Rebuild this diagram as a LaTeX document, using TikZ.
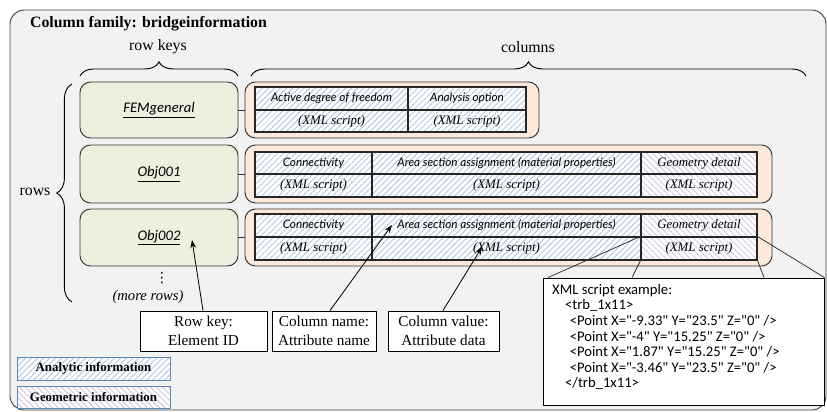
\documentclass[tikz,border=0pt]{standalone}
\usepackage{fontspec}
\setmainfont{Liberation Serif}
\newfontfamily\latofont{Lato}
\newfontfamily\calfont{Carlito}
\newfontfamily\dejafont{DejaVu Sans}
\usetikzlibrary{fit,decorations.pathreplacing,patterns.meta,shadows,arrows.meta}
\definecolor{bgGray}{HTML}{F2F2F2}
\definecolor{keyGreen}{HTML}{EBF1DE}
\definecolor{rowPeach}{HTML}{FDE9D9}
\definecolor{hatchBlue}{HTML}{B9CDE5}
\definecolor{hatchLilac}{HTML}{D5CDE3}
\definecolor{legendBlue}{HTML}{5B87B8}

\begin{document}
\begin{tikzpicture}[x=0.03cm,y=-0.03cm,
  keybox/.style={draw=black!80, line width=0.8pt, fill=keyGreen, rounded corners=9pt, inner sep=0pt},
  keytxt/.style={font=\calfont\itshape\fontsize{12.5}{14}\selectfont},
  rowbox/.style={draw=black!80, line width=0.8pt, fill=rowPeach, rounded corners=9pt, inner sep=0pt},
  acell/.style={draw=black!85, line width=0.9pt, inner sep=0pt, preaction={fill=white},
    pattern={Lines[angle=45,distance=4pt,line width=1.1pt]}, pattern color=hatchBlue},
  gcell/.style={draw=black!85, line width=0.9pt, inner sep=0pt, preaction={fill=white},
    pattern={Lines[angle=-45,distance=4pt,line width=1.1pt]}, pattern color=hatchLilac},
  nametxt/.style={font=\latofont\itshape\fontsize{10}{11}\selectfont},
  valtxt/.style={font=\itshape\fontsize{11}{12}\selectfont},
  notebox/.style={drop shadow={shadow xshift=1.2pt, shadow yshift=-1.2pt, fill=black!45},
    draw=black, line width=0.8pt, fill=white, inner sep=0pt},
  notetxt/.style={align=center, font=\fontsize{13}{16}\selectfont},
  legendbox/.style={drop shadow={shadow xshift=1pt, shadow yshift=-1pt, fill=black!30},
    draw=legendBlue, line width=0.8pt, inner sep=0pt, preaction={fill=white}},
  legendtxt/.style={font=\bfseries\fontsize{11}{12}\selectfont},
  bracelabel/.style={font=\fontsize{13.5}{15}\selectfont},
  callout/.style={draw=black!85, line width=0.6pt},
  pointer/.style={draw=black, line width=0.7pt, -{Stealth[length=7pt,width=5pt]}}
]
\useasboundingbox (0,0) rectangle (827,411);

% column family frame
\draw[fill=bgGray, draw=black!75, line width=0.8pt, rounded corners=12pt] (10,10) rectangle (826,410);
\node[anchor=west, font=\bfseries\fontsize{13.5}{15}\selectfont] (title) at (26,24) {Column family: bridgeinformation};

% braces
\draw[decorate, decoration={brace, amplitude=12pt}, line width=0.8pt] (80,76) -- (238,76);
\draw[decorate, decoration={brace, amplitude=12pt}, line width=0.8pt] (251,76) -- (806,76);
\draw[decorate, decoration={brace, amplitude=13pt}, line width=0.8pt] (72,302) -- (72,84);
\node[bracelabel] (rowkeys) at (158,47) {row keys};
\node[bracelabel] (columns) at (528,47) {columns};
\node[bracelabel] (rows) at (35,192) {rows};

% row keys
\node[keybox, fit={(80,82) (238,138)}, label={[keytxt]center:\underline{FEMgeneral}}] (k1) {};
\node[keybox, fit={(80,145) (238,203)}, label={[keytxt]center:\underline{Obj001}}] (k2) {};
\node[keybox, fit={(80,209) (238,266)}, label={[keytxt]center:\underline{Obj002}}] (k3) {};
\node[inner sep=0pt, font=\dejafont\fontsize{12}{12}\selectfont] (vdots) at (162,278) {⋮};
\node[inner sep=0pt, font=\itshape\fontsize{12.5}{14}\selectfont] (morerows) at (148,297) {(more rows)};

% column containers
\node[rowbox, fit={(245,82) (539,138)}] (r1) {};
\node[rowbox, fit={(245,145) (772,203)}] (r2) {};
\node[rowbox, fit={(245,209) (772,266)}] (r3) {};
\draw[black!80, line width=0.8pt] (k1.east) -- (r1.west);
\draw[black!80, line width=0.8pt] (k2.east) -- (r2.west);
\draw[black!80, line width=0.8pt] (k3.east) -- (r3.west);

% first row
\node[acell, fit={(255,87) (408,110)}, label={[nametxt]center:Active degree of freedom}] (c11) {};
\node[acell, fit={(255,110) (408,132)}, label={[valtxt]center:(XML script)}] (v11) {};
\node[acell, fit={(408,87) (526,110)}, label={[nametxt]center:Analysis option}] (c12) {};
\node[acell, fit={(408,110) (526,132)}, label={[valtxt]center:(XML script)}] (v12) {};
\draw[black!85, line width=1.6pt] (c12.north west) -- (v12.south west);

% second and third rows
\foreach \rr/\ya/\yb/\yc in {2/152/174/197, 3/214/237/260}{
  \node[acell, fit={(255,\ya) (372,\yb)}, label={[nametxt]center:Connectivity}] (c\rr1) {};
  \node[acell, fit={(255,\yb) (372,\yc)}, label={[valtxt]center:(XML script)}] (v\rr1) {};
  \node[acell, fit={(372,\ya) (641,\yb)}, label={[nametxt]center:Area section assignment (material properties)}] (c\rr2) {};
  \node[acell, fit={(372,\yb) (641,\yc)}, label={[valtxt]center:(XML script)}] (v\rr2) {};
  \node[gcell, fit={(641,\ya) (757,\yb)}, label={[valtxt]center:Geometry detail}] (c\rr3) {};
  \node[gcell, fit={(641,\yb) (757,\yc)}, label={[valtxt]center:(XML script)}] (v\rr3) {};
}

% notes
\node[notebox, fit={(140,311) (267,351)}, label={[notetxt]center:Row key:\\Element ID}] (rowkey) {};
\node[notebox, fit={(272,311) (376,351)}, label={[notetxt]center:Column name:\\Attribute name}] (colname) {};
\node[notebox, fit={(388,311) (499,351)}, label={[notetxt]center:Column value:\\Attribute data}] (colvalue) {};
\coordinate (keytip) at (192,240);
\coordinate (nametip) at (392,225);
\coordinate (valuetip) at (482,247);
\draw[pointer] (rowkey.north -| 203,0) -- (keytip);
\draw[pointer] (colname.north -| 330,0) -- (nametip);
\draw[pointer] (colvalue.north -| 443,0) -- (valuetip);

% XML example
\node[notebox, fit={(543,278) (824,405)}] (xmlbox) {};
\node[anchor=north west, align=left, inner sep=0pt, font=\calfont\fontsize{12.5}{13.3}\selectfont] (xmltext) at (552,284)
  {XML script example:\\
   \hspace*{11pt}<trb\_1x11>\\
   \hspace*{15pt}<Point X="-9.33" Y="23.5" Z="0" />\\
   \hspace*{15pt}<Point X="-4" Y="15.25" Z="0" />\\
   \hspace*{15pt}<Point X="1.87" Y="15.25" Z="0" />\\
   \hspace*{15pt}<Point X="-3.46" Y="23.5" Z="0" />\\
   \hspace*{11pt}</trb\_1x11>};
\draw[callout] (v33.north west) -- (xmlbox.north west -| 548,0);
\draw[callout] (v33.south west) -- (xmlbox.north -| 632,0);
\draw[callout] (v33.south east) -- (xmlbox.north -| 764,0);
\draw[callout] (v33.north east) -- (xmlbox.north east);

% legend
\node[legendbox, pattern={Lines[angle=45,distance=4pt,line width=1.1pt]}, pattern color=hatchBlue,
  fit={(17,357) (170,380)}, label={[legendtxt]center:Analytic information}] (legA) {};
\node[legendbox, pattern={Lines[angle=-45,distance=4pt,line width=1.1pt]}, pattern color=hatchLilac,
  fit={(17,386) (170,408)}, label={[legendtxt]center:Geometric information}] (legG) {};
\end{tikzpicture}
\end{document}
